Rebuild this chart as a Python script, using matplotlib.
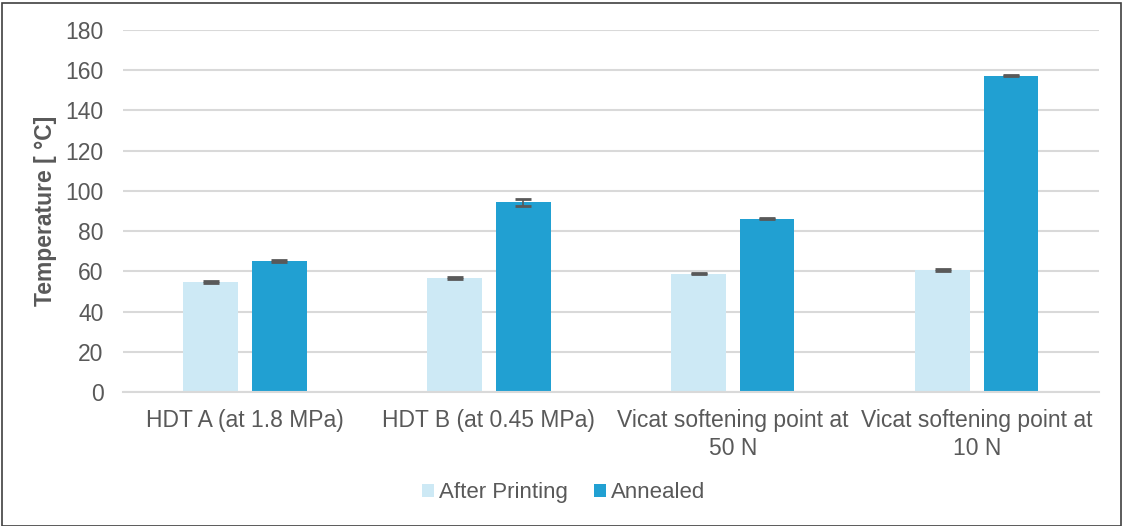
import matplotlib.pyplot as plt
from matplotlib.patches import Rectangle
import numpy as np

plt.rcParams['font.family'] = ['Liberation Sans', 'DejaVu Sans']

categories = ['HDT A (at 1.8 MPa)', 'HDT B (at 0.45 MPa)',
              'Vicat softening point at\n50 N', 'Vicat softening point at\n10 N']
after_printing = [54.8, 56.8, 58.9, 60.6]
after_err = [0.4, 0.5, 0.4, 0.4]
annealed = [65.1, 94.3, 86.2, 157.2]
annealed_err = [0.3, 1.6, 0.3, 0.3]
series_names = ['After Printing', 'Annealed']

c_light = '#CDE9F5'
c_dark = '#21A0D2'
txt = '#595959'

fig = plt.figure(figsize=(11.27, 5.26), dpi=100)
ax = fig.add_axes([0.1091, 0.2548, 0.8659, 0.6882])

x = np.arange(len(categories))
w = 0.225
off = 0.14
ekw = dict(ecolor=txt, elinewidth=1.2, capsize=6, capthick=2)
ax.bar(x - off, after_printing, w, yerr=after_err, color=c_light,
       label=series_names[0], error_kw=ekw, zorder=2)
ax.bar(x + off, annealed, w, yerr=annealed_err, color=c_dark,
       label=series_names[1], error_kw=ekw, zorder=2)

ax.set_xlim(-0.5, len(categories) - 0.5)
ax.set_ylim(0, 180)
ax.set_yticks(np.arange(0, 181, 20))
ax.yaxis.grid(True, color='#D9D9D9', linewidth=1.5, zorder=0)
ax.set_axisbelow(True)
for s in ['top', 'right', 'left']:
    ax.spines[s].set_visible(False)
ax.spines['bottom'].set_color('#D9D9D9')
ax.spines['bottom'].set_linewidth(1.5)
ax.tick_params(axis='both', length=0, labelsize=16.5, colors=txt, pad=14)
ax.tick_params(axis='x', pad=12)
ax.set_xticks(x)
ax.set_xticklabels(categories, linespacing=1.32)
ax.set_ylabel('Temperature [ °C]', fontsize=16.5, fontweight='bold', color=txt, labelpad=6)

leg = fig.legend(loc='center', bbox_to_anchor=(0.5, 0.063), ncol=2, frameon=False,
                 fontsize=16, handlelength=0.55, handleheight=0.55, handletextpad=0.2,
                 columnspacing=1.2, labelcolor=txt)

fig.patches.append(Rectangle((0.002, 0.0), 0.993, 0.995, transform=fig.transFigure,
                             fill=False, edgecolor='#404040', linewidth=1.2))

fig.savefig('out.png', dpi=100)
